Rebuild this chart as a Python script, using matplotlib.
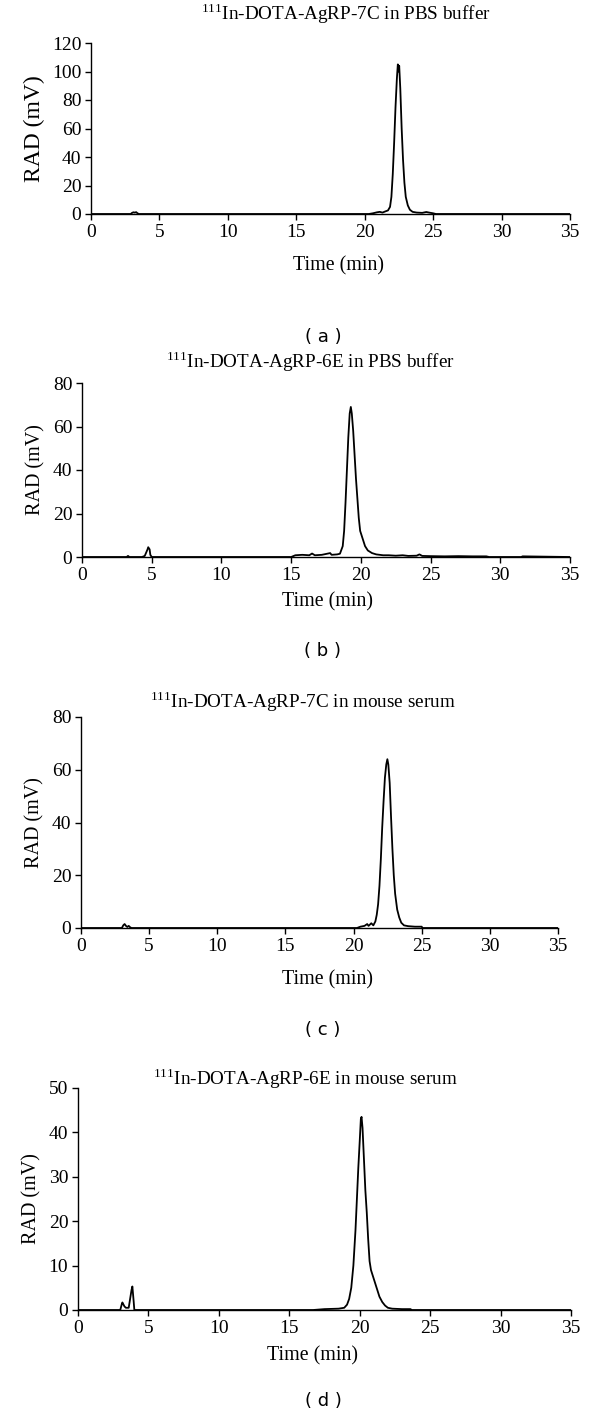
import matplotlib
matplotlib.use("Agg")
import matplotlib.pyplot as plt

plt.rcParams['font.family'] = 'Liberation Serif'
plt.rcParams['mathtext.fontset'] = 'custom'
plt.rcParams['mathtext.rm'] = 'Liberation Serif'

# (a) 111In-DOTA-AgRP-7C in PBS buffer
t_a = [0, 2.9, 3.0, 3.1, 3.2, 3.3, 3.4, 3.5, 20.3, 20.6, 20.9, 21.1, 21.3, 21.5, 21.7,
       21.85, 21.95, 22.05, 22.15, 22.25, 22.35, 22.42, 22.47, 22.52, 22.6, 22.7, 22.8,
       22.9, 23.0, 23.15, 23.3, 23.5, 23.8, 24.2, 24.5, 24.7, 25.0, 25.2, 35]
y_a = [0, 0, 0.8, 1.2, 1.0, 1.3, 0.5, 0, 0, 0.5, 1.2, 1.5, 1.0, 1.8, 2.5,
       5, 12, 28, 50, 75, 95, 105, 100, 104, 88, 60, 38,
       22, 12, 6, 3, 1.5, 1.0, 0.8, 1.4, 1.0, 0.5, 0, 0]

# (b) 111In-DOTA-AgRP-6E in PBS buffer
t_b = [0, 3.2, 3.3, 3.4, 4.3, 4.5, 4.6, 4.7, 4.75, 4.85, 4.9, 5.0, 15.0, 15.3, 15.8,
       16.3, 16.5, 16.7, 17.2, 17.8, 17.9, 18.3, 18.5, 18.7, 18.8, 18.9, 19.0, 19.1,
       19.2, 19.28, 19.35, 19.45, 19.55, 19.65, 19.75, 19.85, 19.95, 20.05, 20.15,
       20.3, 20.5, 20.8, 21.1, 21.6, 22.0, 22.5, 23.0, 23.4, 24.0, 24.2, 24.4, 25.0,
       26.0, 27.0, 28.0, 29.0, 29.2, 31.5, 31.6, 35]
y_b = [0, 0, 0.5, 0, 0, 0.5, 2.0, 3.5, 4.5, 3.5, 1.0, 0, 0, 0.8, 1.0,
       0.8, 1.6, 0.8, 1.0, 1.8, 1.0, 1.2, 1.5, 5, 12, 25, 40, 55,
       66, 69, 66, 58, 47, 36, 27, 18, 12, 10, 8,
       5, 3, 1.8, 1.2, 0.8, 0.8, 0.6, 0.8, 0.5, 0.6, 1.2, 0.5, 0.4,
       0.3, 0.4, 0.3, 0.3, 0, 0, 0.3, 0]

# (c) 111In-DOTA-AgRP-7C in mouse serum
t_c = [0, 3.0, 3.1, 3.2, 3.3, 3.4, 3.5, 3.6, 3.7, 20.25, 20.5, 20.8, 21.0, 21.1, 21.3,
       21.45, 21.6, 21.7, 21.8, 21.9, 22.0, 22.1, 22.2, 22.3, 22.4, 22.48, 22.55, 22.65,
       22.75, 22.85, 22.95, 23.05, 23.2, 23.35, 23.5, 23.7, 24.0, 24.5, 25.0, 25.05, 35]
y_c = [0, 0, 1.0, 1.5, 0.8, 0.4, 0.8, 0.3, 0, 0, 0.5, 0.8, 1.5, 0.8, 1.8,
       1.0, 2.5, 5, 9, 16, 26, 38, 48, 57, 62, 64, 62, 55,
       42, 30, 20, 13, 7, 4, 2, 1, 0.7, 0.5, 0.5, 0, 0]

# (d) 111In-DOTA-AgRP-6E in mouse serum
t_d = [0, 3.0, 3.1, 3.15, 3.3, 3.4, 3.6, 3.7, 3.8, 3.86, 3.95, 4.0, 16.7, 17.5, 18.5,
       18.9, 19.1, 19.25, 19.4, 19.55, 19.7, 19.8, 19.9, 20.0, 20.08, 20.13, 20.2, 20.3,
       20.4, 20.5, 20.6, 20.7, 20.8, 20.95, 21.1, 21.25, 21.4, 21.6, 21.8, 22.0, 22.3,
       23.0, 23.6, 23.7, 35]
y_d = [0, 0, 1.2, 1.7, 0.8, 0.5, 0.5, 2.5, 4.5, 5.3, 2.0, 0, 0, 0.2, 0.3,
       0.5, 1.2, 2.5, 5, 10, 18, 25, 32, 38, 43, 43.5, 41, 34,
       27, 22, 16, 11, 9, 7.5, 6, 4.5, 3, 1.8, 1, 0.5, 0.3,
       0.2, 0.2, 0, 0]

times = [t_a, t_b, t_c, t_d]
signals = [y_a, y_b, y_c, y_d]
compounds = ['In-DOTA-AgRP-7C in PBS buffer', 'In-DOTA-AgRP-6E in PBS buffer',
             'In-DOTA-AgRP-7C in mouse serum', 'In-DOTA-AgRP-6E in mouse serum']
ymaxes = [120, 80, 80, 50]
ysteps = [20, 20, 20, 10]
letters = ['a', 'b', 'c', 'd']

W, H = 600, 1422
fig = plt.figure(figsize=(W / 100, H / 100), dpi=100)

# axes boxes in pixels: left, right, y of zero line, y of top
boxes = [(91, 570, 214, 43), (82, 570, 557, 383), (81, 558, 928, 717), (78, 571, 1310, 1088)]
title_pos = [(346, 14), (310, 362), (303, 702), (305, 1079)]
xlab_pos = [(339, 266), (328, 602), (328, 980), (313, 1356)]
letter_y = [337, 651, 1030, 1401]
ylab_size = [17, 14.5, 14.5, 14.5]

for i in range(4):
    l, r, y0, y1 = boxes[i]
    ax = fig.add_axes([l / W, 1 - y0 / H, (r - l) / W, (y0 - y1) / H])
    ax.plot(times[i], signals[i], color='black', lw=1.3)
    ax.set_xlim(0, 35)
    ax.set_ylim(0, ymaxes[i])
    ax.set_xticks(range(0, 36, 5))
    ax.set_yticks(range(0, ymaxes[i] + 1, ysteps[i]))
    for s in ['top', 'right']:
        ax.spines[s].set_visible(False)
    ax.spines['left'].set_linewidth(1.0)
    ax.spines['bottom'].set_linewidth(1.0)
    ax.tick_params(direction='out', length=4, width=1.0, labelsize=14, pad=3)
    ax.set_ylabel('RAD (mV)', fontsize=ylab_size[i], labelpad=5)
    fig.text(xlab_pos[i][0] / W, 1 - xlab_pos[i][1] / H, 'Time (min)',
             fontsize=14.4, ha='center', va='center')
    fig.text(title_pos[i][0] / W, 1 - title_pos[i][1] / H,
             r'$^{\mathrm{111}}$' + compounds[i], fontsize=13.8, ha='center', va='center')
    fig.text(323 / W, 1 - letter_y[i] / H, '( %s )' % letters[i], fontsize=13,
             family='DejaVu Sans', ha='center', va='center')

fig.savefig('out.png', dpi=100)
